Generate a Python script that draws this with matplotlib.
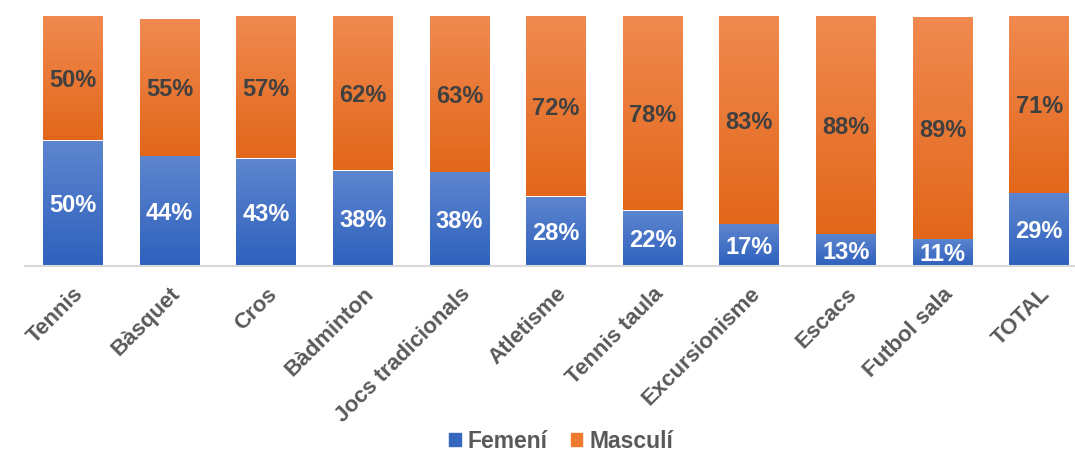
import numpy as np
import matplotlib.pyplot as plt
import matplotlib.transforms as mtransforms
from matplotlib.colors import LinearSegmentedColormap
from matplotlib.patches import Patch

plt.rcParams['font.family'] = ['Liberation Sans', 'DejaVu Sans']

categories = ['Tennis', 'Bàsquet', 'Cros', 'Bàdminton', 'Jocs tradicionals', 'Atletisme',
              'Tennis taula', 'Excursionisme', 'Escacs', 'Futbol sala', 'TOTAL']
# bar heights (labels are the rounded percentages shown)
femeni = [50, 43.8, 42.8, 38, 37.5, 27.6, 22, 16.5, 12.5, 10.6, 29]
masculi = [50, 54.8, 57.2, 62, 62.5, 72.4, 78, 83.5, 87.5, 88.7, 71]
femeni_lbl = [50, 44, 43, 38, 38, 28, 22, 17, 13, 11, 29]
masculi_lbl = [50, 55, 57, 62, 63, 72, 78, 83, 88, 89, 71]

blue_cmap = LinearSegmentedColormap.from_list('b', ['#2F61BD', '#5E86CF'])
orange_cmap = LinearSegmentedColormap.from_list('o', ['#E2671A', '#F08A50'])

fig = plt.figure(figsize=(10.75, 4.51), dpi=100)
ax = fig.add_axes([24.6 / 1075, 185.5 / 451, 1063 / 1075, 250 / 451])

x = np.arange(len(categories))
b1 = ax.bar(x, femeni, width=0.62, color='#4472C4')
b2 = ax.bar(x, masculi, width=0.62, bottom=femeni, color='#ED7D31')

grad = np.linspace(0, 1, 256).reshape(-1, 1)
for bars, cmap in ((b1, blue_cmap), (b2, orange_cmap)):
    for p in bars:
        x0, y0 = p.get_x(), p.get_y()
        w, h = p.get_width(), p.get_height()
        p.set_facecolor('none')
        p.set_edgecolor('none')
        im = ax.imshow(grad, cmap=cmap, aspect='auto', origin='lower',
                       extent=[x0, x0 + w, y0, y0 + h], zorder=2)
        im.set_clip_path(p)

for i in range(len(categories)):
    ax.text(x[i], femeni[i] / 2, f'{femeni_lbl[i]}%', ha='center', va='center_baseline',
            color='white', fontsize=17, fontweight='bold', zorder=3)
    ax.text(x[i], femeni[i] + masculi[i] / 2, f'{masculi_lbl[i]}%', ha='center',
            va='center_baseline', color='#404040', fontsize=17, fontweight='bold', zorder=3)

ax.set_xlim(-0.5, len(categories) - 0.5)
ax.set_ylim(0, 100)
ax.set_xticks(x)
ax.set_xticklabels(categories, rotation=45, ha='right', rotation_mode='anchor',
                   fontsize=16, fontweight='bold', color='#595959')
shift = mtransforms.ScaledTranslation(-0.04, 0, fig.dpi_scale_trans)
for lbl in ax.get_xticklabels():
    lbl.set_transform(lbl.get_transform() + shift)
ax.tick_params(axis='x', length=0, pad=13)
ax.set_yticks([])
for s in ['top', 'left', 'right']:
    ax.spines[s].set_visible(False)
ax.spines['bottom'].set_color('#D9D9D9')
ax.spines['bottom'].set_linewidth(1.5)

handles = [Patch(color='#3566C0', label='Femení'), Patch(color='#EE7B30', label='Masculí')]
fig.legend(handles=handles, loc='center', bbox_to_anchor=(0.522, 0.022), ncol=2,
           frameon=False, handlelength=0.5, handleheight=0.5, handletextpad=0.3,
           columnspacing=1.0, prop={'size': 16.5, 'weight': 'bold'}, labelcolor='#595959')

fig.savefig('out.png', dpi=100)
